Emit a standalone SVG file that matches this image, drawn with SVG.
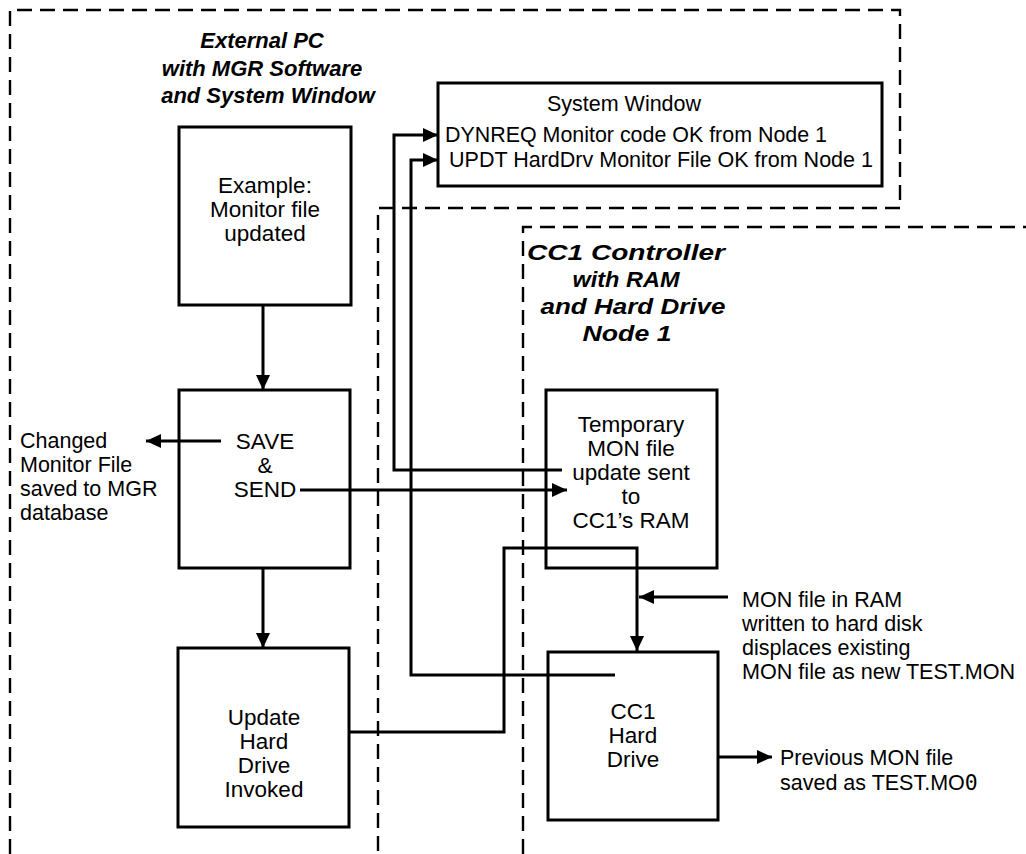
<svg xmlns="http://www.w3.org/2000/svg" width="1026" height="854" viewBox="0 0 1026 854">
<style>
.bg{fill:#fff}
.box{fill:none;stroke:#000;stroke-width:3}
.dash{fill:none;stroke:#000;stroke-width:2.4;stroke-dasharray:15 8}
.con{fill:none;stroke:#000;stroke-width:3}
.arr{marker-end:url(#ah)}
.t{font-family:"Liberation Sans",Arial,sans-serif;font-size:21.5px;fill:#000}
.b{font-size:22.5px}
.c{text-anchor:middle}
.h{font-family:"Liberation Sans",Arial,sans-serif;font-size:22px;font-weight:bold;font-style:italic;fill:#000;text-anchor:middle}
</style>
<defs>
<marker id="ah" viewBox="0 0 15 14" markerWidth="15" markerHeight="14" refX="15" refY="7" orient="auto" markerUnits="userSpaceOnUse">
<path d="M0,0 L15,7 L0,14 z" fill="#000"/>
</marker>
</defs>
<rect class="bg" x="0" y="0" width="1026" height="854"/>

<g id="region-external-pc">
<path class="dash" d="M10,854 V10 H900 V208 H378 V854"/>
<text class="h" x="262" y="48">External PC</text>
<text class="h" x="262" y="76">with MGR Software</text>
<text class="h" x="268" y="103">and System Window</text>
</g>

<g id="region-cc1">
<path class="dash" d="M523,854 V227 H1026"/>
<text class="h" x="626" y="260" textLength="198" lengthAdjust="spacingAndGlyphs">CC1 Controller</text>
<text class="h" x="626" y="287" textLength="107" lengthAdjust="spacingAndGlyphs">with RAM</text>
<text class="h" x="633" y="314" textLength="185" lengthAdjust="spacingAndGlyphs">and Hard Drive</text>
<text class="h" x="627" y="341" textLength="89" lengthAdjust="spacingAndGlyphs">Node 1</text>
</g>

<g id="node-system-window">
<rect class="box" x="438" y="83" width="444" height="103"/>
<text class="t c" x="624" y="111">System Window</text>
<text class="t" x="445" y="142" textLength="382" lengthAdjust="spacingAndGlyphs">DYNREQ Monitor code OK from Node 1</text>
<text class="t" x="449" y="167" textLength="424" lengthAdjust="spacingAndGlyphs">UPDT HardDrv Monitor File OK from Node 1</text>
</g>

<g id="node-example">
<rect class="box" x="179" y="127" width="172" height="178"/>
<text class="t b c" x="265" y="193">Example:</text>
<text class="t b c" x="265" y="217">Monitor file</text>
<text class="t b c" x="265" y="241">updated</text>
</g>

<g id="node-save-send">
<rect class="box" x="179" y="390" width="171" height="178"/>
<text class="t b c" x="265" y="449">SAVE</text>
<text class="t b c" x="265" y="473">&amp;</text>
<text class="t b c" x="265" y="497">SEND</text>
</g>

<g id="node-update">
<rect class="box" x="178" y="648" width="171" height="179"/>
<text class="t b c" x="264" y="725">Update</text>
<text class="t b c" x="264" y="749">Hard</text>
<text class="t b c" x="264" y="773">Drive</text>
<text class="t b c" x="264" y="797">Invoked</text>
</g>

<g id="node-temporary">
<rect class="box" x="546" y="390" width="171" height="178"/>
<text class="t b c" x="631" y="432">Temporary</text>
<text class="t b c" x="631" y="456">MON file</text>
<text class="t b c" x="631" y="480">update sent</text>
<text class="t b c" x="631" y="504">to</text>
<text class="t b c" x="631" y="528">CC1’s RAM</text>
</g>

<g id="node-hard-drive">
<rect class="box" x="548" y="652" width="170" height="168"/>
<text class="t b c" x="633" y="719">CC1</text>
<text class="t b c" x="633" y="743">Hard</text>
<text class="t b c" x="633" y="767">Drive</text>
</g>

<g id="note-changed">
<text class="t" x="20" y="448">Changed</text>
<text class="t" x="20" y="472">Monitor File</text>
<text class="t" x="20" y="496">saved to MGR</text>
<text class="t" x="20" y="520">database</text>
</g>

<g id="note-mon-ram">
<text class="t" x="742" y="607">MON file in RAM</text>
<text class="t" x="742" y="631">written to hard disk</text>
<text class="t" x="742" y="655">displaces existing</text>
<text class="t" x="742" y="679" textLength="273" lengthAdjust="spacingAndGlyphs">MON file as new TEST.MON</text>
</g>

<g id="note-previous">
<text class="t" x="780" y="765">Previous MON file</text>
<text class="t" x="780" y="790">saved as TEST.MO<tspan font-family="'DejaVu Sans Mono',monospace">0</tspan></text>
</g>

<g id="connectors">
<path class="con arr" d="M263,305 V390"/>
<path class="con arr" d="M263,568 V648"/>
<path class="con arr" d="M221,441 H146"/>
<path class="con arr" d="M300,490 H567"/>
<path class="con arr" d="M562,470 H394 V135 H438"/>
<path class="con arr" d="M615,675 H411 V160 H438"/>
<path class="con arr" d="M349,732 H504 V548 H637 V651"/>
<path class="con arr" d="M728,597 H639"/>
<path class="con arr" d="M718,757 H772"/>
</g>
</svg>
